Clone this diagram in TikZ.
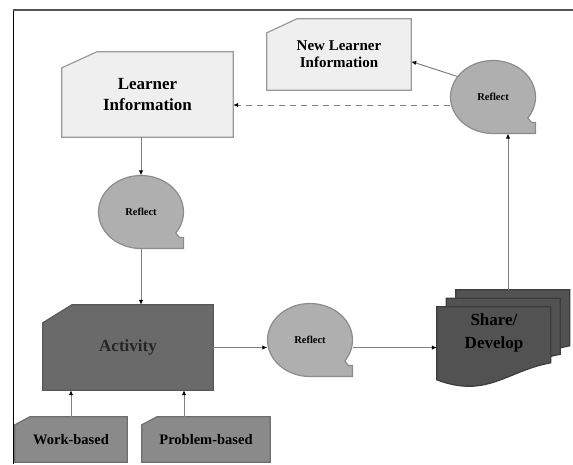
\documentclass[tikz,border=0pt]{standalone}
\usepackage{fontspec}
\setmainfont{Liberation Serif}
\usetikzlibrary{shapes.geometric,arrows.meta,backgrounds}

\definecolor{infofill}{HTML}{EFEFEF}
\definecolor{infoedge}{HTML}{9A9A9A}
\definecolor{bubblefill}{HTML}{AFAFAF}
\definecolor{bubbleedge}{HTML}{8C8C8C}
\definecolor{actfill}{HTML}{6A6A6A}
\definecolor{actedge}{HTML}{585858}
\definecolor{basefill}{HTML}{8A8A8A}
\definecolor{baseedge}{HTML}{6E6E6E}
\definecolor{sharefill}{HTML}{525252}
\definecolor{shareedge}{HTML}{3C3C3C}
\definecolor{linegray}{HTML}{808080}
\definecolor{framegray}{HTML}{555555}

\begin{document}
\begin{tikzpicture}[x=1pt, y=-1pt,
    infobox/.style={rectangle, inner sep=0pt, align=center},
    boxline/.style={line width=1.2pt},
    reflectnode/.style={ellipse, minimum width=85pt, minimum height=73pt, inner sep=0pt,
        font=\fontsize{10.5}{12}\selectfont\bfseries},
    bubble/.style={draw=bubbleedge, fill=bubblefill, line width=1.2pt},
    page/.style={draw=shareedge, fill=sharefill, line width=1.2pt},
    flow/.style={draw=linegray, line width=1pt, -{Latex[length=5pt, width=4.5pt, color=black]}}
]
    \useasboundingbox (0,0) rectangle (573,464);

    % Frame
    \draw[black, line width=0.8pt] (13,464) -- (13,10);
    \draw[framegray, line width=1.5pt] (13,10) -- (573,10);

    % Learner information
    \node[infobox, minimum width=171pt, minimum height=85pt,
        font=\fontsize{17}{21}\selectfont\bfseries] (learner) at (147.5,94.5) {Learner\\Information};
    \node[infobox, minimum width=144pt, minimum height=71pt,
        font=\fontsize{15}{17}\selectfont\bfseries] (newlearner) at (339,54.5) {New Learner\\Information};

    % Activity and its sources
    \node[infobox, text=black!85, minimum width=170pt, minimum height=85pt,
        font=\fontsize{17}{20}\selectfont\bfseries] (activity) at (128,347.5) {Activity};
    \node[infobox, minimum width=112pt, minimum height=45pt,
        font=\fontsize{14.5}{17}\selectfont\bfseries] (work) at (71,439.5) {Work-based};
    \node[infobox, minimum width=128pt, minimum height=45pt,
        font=\fontsize{14.5}{17}\selectfont\bfseries] (problem) at (206,439.5) {Problem-based};

    % Reflect bubbles
    \foreach \name/\x/\y in {rfl/141/212, rfm/310/340, rfr/493/97}
        \node[reflectnode] (\name) at (\x,\y) {Reflect};

    % Share / develop stack
    \node[minimum width=114pt, minimum height=76pt, inner sep=0pt, align=center,
        font=\fontsize{17}{23}\selectfont\bfseries] (share) at (494,333) {Share/\\Develop};

    % Outlines behind the texts
    \begin{scope}[on background layer]
        \foreach \n/\cx/\cy/\fc/\ec in {learner/35/16/infofill/infoedge, newlearner/30/14/infofill/infoedge,
                activity/29/18/actfill/actedge, work/15/8/basefill/baseedge, problem/15/8/basefill/baseedge}
            \draw[boxline, draw=\ec, fill=\fc] ([yshift=-\cy pt]\n.north west) -- ([xshift=\cx pt]\n.north west)
                -- (\n.north east) -- (\n.south east) -- (\n.south west) -- cycle;
        \foreach \n in {rfl, rfm, rfr}
            \draw[bubble] ([shift={(-35:42.5pt and 36.5pt)}]\n.center)
                arc[start angle=-35, end angle=270, x radius=42.5pt, y radius=36.5pt]
                -- ++(42.5pt,0pt) -- ++(0pt,11pt) -- ++(-4pt,0pt) -- cycle;
    \end{scope}
    \begin{scope}[on background layer, shift={(share.north west)}, yshift=-12pt]
        \foreach \dx/\dy in {19/-17, 9.5/-8.5, 0/0}
            \draw[page] (\dx,\dy) -- ++(114,0) -- ++(0,56)
                .. controls +(-44,8) and +(50,19) .. ++(-114,17) -- cycle;
    \end{scope}

    % Connectors
    \coordinate (rfr-tab) at ([shift={(15pt,-36.5pt)}]rfr.center);
    \coordinate (sharetop) at ([yshift=5pt]share.north);
    \coordinate (lrin) at ([yshift=-10.5pt]learner.east);
    \coordinate (pbtop) at ([xshift=-22pt]problem.north);

    \draw[flow] (learner.south -| rfl.north) -- (rfl.north);
    \draw[flow] (rfl.south) -- (rfl.south |- activity.north);
    \draw[flow] (activity.east) -- (activity.east -| rfm.west);
    \draw[flow] (rfm.east |- activity.east) -- (activity.east -| share.west);
    \draw[flow] (sharetop -| rfr-tab) -- (rfr-tab);
    \draw[flow] (rfr.150) -- ([yshift=-7pt]newlearner.east);
    \draw[flow, dash pattern=on 6pt off 5pt] (rfr.west |- lrin) -- (lrin);
    \draw[flow] (work.north) -- (work.north |- activity.south);
    \draw[flow] (pbtop) -- (pbtop |- activity.south);
\end{tikzpicture}
\end{document}
